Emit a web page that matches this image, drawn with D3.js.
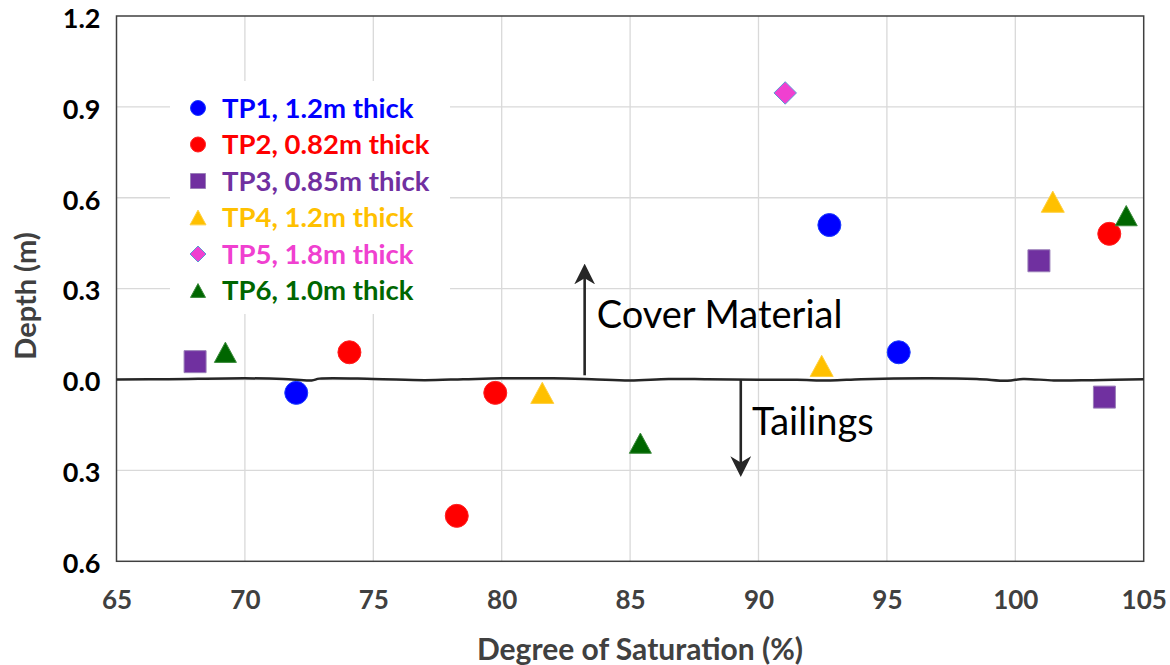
<!DOCTYPE html>
<html>
<head>
<meta charset="utf-8">
<script src="https://cdn.jsdelivr.net/npm/d3@7"></script>
<style>
  body { margin: 0; background: #fff; }
  svg { display: block; font-family: Lato, "Open Sans", sans-serif; }
</style>
</head>
<body>
<div class="canvas-container"></div>
<script>
// series values: [saturation %, depth m] (below the line is negative)
const tp1 = [[72.0, -0.044], [92.76, 0.51], [95.46, 0.09]]
const tp2 = [[74.07, 0.09], [79.75, -0.044], [78.25, -0.45], [103.66, 0.481]]
const tp3 = [[68.06, 0.059], [100.92, 0.392], [103.47, -0.058]]
const tp4 = [[81.58, -0.044], [101.46, 0.587], [92.46, 0.045]]
const tp5 = [[91.04, 0.946]]
const tp6 = [[69.24, 0.09], [85.4, -0.21], [104.32, 0.541]]

const seriesNames = ["TP1, 1.2m thick", "TP2, 0.82m thick", "TP3, 0.85m thick",
  "TP4, 1.2m thick", "TP5, 1.8m thick", "TP6, 1.0m thick"]
const seriesData = [tp1, tp2, tp3, tp4, tp5, tp6]

const xTicks = [65, 70, 75, 80, 85, 90, 95, 100, 105]
const yTicks = [-0.6, -0.3, 0, 0.3, 0.6, 0.9, 1.2]

// the hand drawn interface line between cover and tailings
const interfaceLine = [[65, 0], [67, 0.001], [70, 0.004], [71.5, 0.002], [72.6, -0.003],
  [72.9, 0.003], [75, 0.002], [77, -0.002], [78.5, 0.001], [80, 0.004], [82, 0.004],
  [83.5, 0.001], [85, -0.003], [86.5, 0.002], [88, 0.001], [90, -0.001], [91.5, -0.001],
  [92.8, -0.003], [94, 0.001], [96.5, 0.004], [98.5, 0.002], [99.7, -0.004], [100.3, 0.002],
  [101.5, -0.003], [103, -0.002], [105, 0.001]]

const w = 1170
const h = 665
const pLeft = 116.5, pRight = 1143.7, pTop = 16, pBottom = 561.3

const svg = d3.select(".canvas-container")
  .append("svg")
  .attr("width", w)
  .attr("height", h)

const x = d3.scaleLinear().domain([65, 105]).range([pLeft, pRight])
const y = d3.scaleLinear().domain([-0.6, 1.2]).range([pBottom, pTop])

// gridlines
svg.append("g")
  .selectAll("line")
  .data(xTicks.slice(1, -1))
  .enter()
  .append("line")
  .attr("x1", d => x(d)).attr("x2", d => x(d))
  .attr("y1", pTop).attr("y2", pBottom)
  .attr("stroke", "#d9d9d9").attr("stroke-width", 1.3)

svg.append("g")
  .selectAll("line")
  .data(yTicks.slice(1, -1))
  .enter()
  .append("line")
  .attr("x1", pLeft).attr("x2", pRight)
  .attr("y1", d => y(d)).attr("y2", d => y(d))
  .attr("stroke", "#d9d9d9").attr("stroke-width", 1.3)

// plot border
svg.append("rect")
  .attr("x", pLeft).attr("y", pTop)
  .attr("width", pRight - pLeft).attr("height", pBottom - pTop)
  .attr("fill", "none").attr("stroke", "#404040").attr("stroke-width", 1.5)

// axes
const xAxis = svg.append("g")
  .attr("transform", `translate(0,${pBottom})`)
  .call(d3.axisBottom(x).tickValues(xTicks).tickSize(0).tickPadding(29))
xAxis.select(".domain").remove()
xAxis.selectAll("text")
  .attr("font-size", 26).attr("font-weight", "bold").attr("fill", "#404040")
  .attr("font-family", "Lato")

const yAxis = svg.append("g")
  .attr("transform", `translate(${pLeft},0)`)
  .call(d3.axisLeft(y).tickValues(yTicks).tickSize(0).tickPadding(16)
    .tickFormat(d => Math.abs(d).toFixed(1)))
yAxis.select(".domain").remove()
yAxis.selectAll("text")
  .attr("font-size", 27).attr("font-weight", "bold").attr("fill", "#000")
  .attr("font-family", "Lato")
  .attr("dy", "0.42em")

svg.append("text")
  .attr("x", 640).attr("y", 660)
  .attr("text-anchor", "middle")
  .attr("font-size", 30).attr("font-weight", "bold").attr("fill", "#404040")
  .text("Degree of Saturation (%)")

svg.append("text")
  .attr("transform", `translate(36,296) rotate(-90)`)
  .attr("text-anchor", "middle")
  .attr("font-size", 29).attr("font-weight", "bold").attr("fill", "#404040")
  .text("Depth (m)")

// interface line
svg.append("path")
  .datum(interfaceLine)
  .attr("d", d3.line().x(d => x(d[0])).y(d => y(d[1])).curve(d3.curveCatmullRom))
  .attr("fill", "none").attr("stroke", "#262626").attr("stroke-width", 2.5)

// arrows
svg.append("defs").append("marker")
  .attr("id", "head")
  .attr("viewBox", "0 0 20 20")
  .attr("refX", 16).attr("refY", 10)
  .attr("markerWidth", 8).attr("markerHeight", 8)
  .attr("markerUnits", "strokeWidth")
  .attr("orient", "auto")
  .append("path")
  .attr("d", "M0,0 L20,10 L0,20 L6,10 Z")
  .attr("fill", "#262626")

const arrows = [[83.23, 0.014, 0.369], [89.31, 0, -0.308]]
svg.append("g")
  .selectAll("line")
  .data(arrows)
  .enter()
  .append("line")
  .attr("x1", d => x(d[0])).attr("x2", d => x(d[0]))
  .attr("y1", d => y(d[1])).attr("y2", d => y(d[2]))
  .attr("stroke", "#262626").attr("stroke-width", 2.6)
  .attr("marker-end", "url(#head)")

svg.append("text")
  .attr("x", x(83.7)).attr("y", y(0.17))
  .attr("font-size", 38).attr("fill", "#000")
  .text("Cover Material")

svg.append("text")
  .attr("x", x(89.75)).attr("y", y(-0.183))
  .attr("font-size", 38).attr("fill", "#000")
  .text("Tailings")

// markers
const colors = ["#0000ff", "#ff0000", "#7030a0", "#ffc000", "#f040d0", "#006600"]
const strokes = ["#1a3cff", "#ff2020", "#9a7fb8", "#ffd040", "#5b9bd5", "#3a8a3a"]
const shapes = ["circle", "circle", "square", "triangle", "diamond", "triangle"]

const shapePath = (shape, s) => {
  const r = s / 2
  if (shape === "circle") return d3.symbol(d3.symbolCircle, Math.PI * r * r)()
  if (shape === "square") return `M${-r},${-r}H${r}V${r}H${-r}Z`
  if (shape === "diamond") return `M0,${-r}L${r},0L0,${r}L${-r},0Z`
  const th = s * 0.92 / 2
  return `M0,${-th}L${r},${th}L${-r},${th}Z`
}

const sizes = [23, 23, 22, 23, 22.5, 22]
seriesData.forEach((pts, i) => {
  svg.append("g")
    .selectAll("path")
    .data(pts)
    .enter()
    .append("path")
    .attr("d", shapePath(shapes[i], sizes[i]))
    .attr("transform", d => `translate(${x(d[0])},${y(d[1])})`)
    .attr("fill", colors[i])
    .attr("stroke", strokes[i]).attr("stroke-width", 1)
})

// legend
const legend = svg.append("g")
legend.append("rect")
  .attr("x", 170).attr("y", 81).attr("width", 280).attr("height", 233)
  .attr("fill", "#fff")

const legendSizes = [15, 15, 15, 16, 16, 15]
seriesNames.forEach((name, i) => {
  const ly = 108 + i * 36.5
  legend.append("path")
    .attr("d", shapePath(shapes[i], legendSizes[i]))
    .attr("transform", `translate(198,${ly})`)
    .attr("fill", colors[i])
    .attr("stroke", strokes[i]).attr("stroke-width", 1)
  legend.append("text")
    .attr("x", 222).attr("y", ly)
    .attr("dy", "0.36em")
    .attr("font-size", 27.5).attr("font-weight", "bold")
    .attr("fill", colors[i])
    .text(name)
})
</script>
</body>
</html>
